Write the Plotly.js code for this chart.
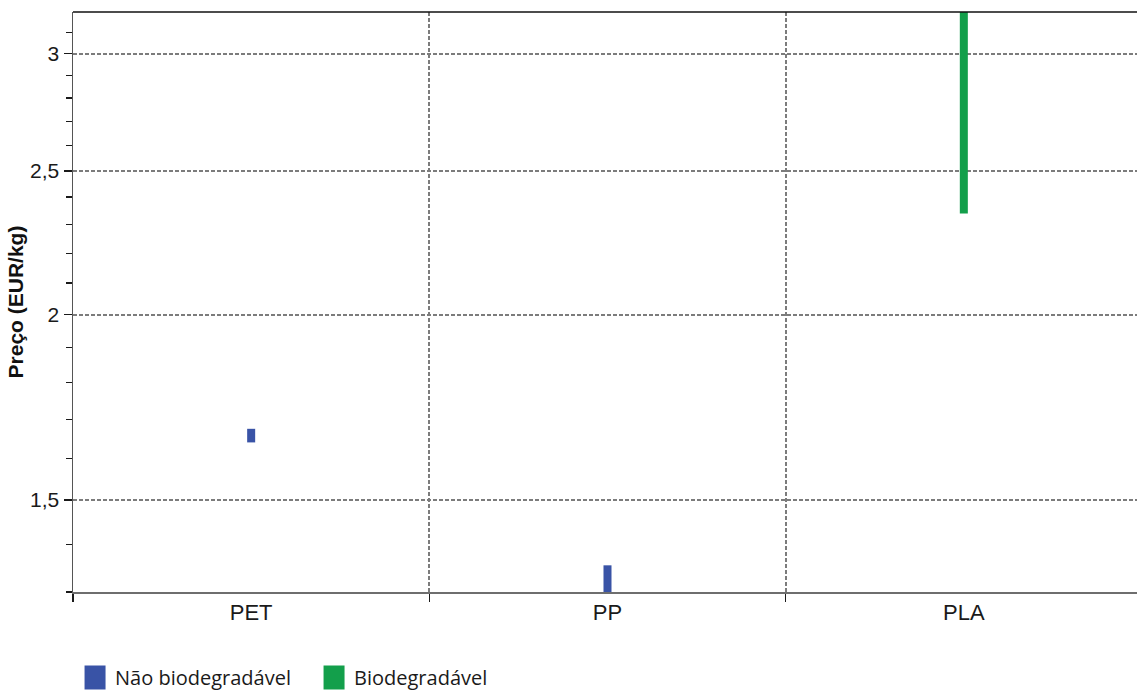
<!DOCTYPE html>
<html><head><meta charset="utf-8">
<script src="https://cdn.plot.ly/plotly-3.0.1.min.js"></script>
<style>
html,body{margin:0;padding:0;background:#fff}
.legend .scrollbox{clip-path:none !important}
.legend .legendpoints path{d:path("M30.5,19H9.5V-5H30.5Z");transform:none}
.legend text.legendtext{transform:translateY(7px)}
</style>
</head><body><div id="chart" style="width:1137px;height:690px"></div>
<script>
const categories = ['PET', 'PP', 'PLA'];
const naoBioCats = ['PET', 'PP'];
const naoBioLow = [1.64, 1.30];
const naoBioHigh = [1.675, 1.355];
const bioCats = ['PLA'];
const bioLow = [2.34];
const bioHigh = [3.3];
const yTickVals = [1.5, 2, 2.5, 3];
const yTickText = ['1,5', '2', '2,5', '3'];
const yMinorVals = [1.3, 1.4, 1.6, 1.7, 1.8, 1.9, 2.1, 2.2, 2.3, 2.4, 2.6, 2.7, 2.8, 2.9, 3.1];

const diff = (hi, lo) => hi.map((h, i) => h - lo[i]);

const traces = [
  {
    type: 'bar', name: 'Não biodegradável', x: naoBioCats,
    base: naoBioLow, y: diff(naoBioHigh, naoBioLow),
    width: 0.0225, marker: {color: '#3953a6'}, hoverinfo: 'skip'
  },
  {
    type: 'bar', name: 'Biodegradável', x: bioCats,
    base: bioLow, y: diff(bioHigh, bioLow),
    width: 0.0225, marker: {color: '#139f4b'}, hoverinfo: 'skip'
  }
];

const gridStyle = {gridcolor: '#7c7c7c', gridwidth: 2, griddash: '4px,2px'};

const layout = {
  width: 1137, height: 690,
  margin: {l: 73, r: 0, t: 12, b: 98},
  paper_bgcolor: '#ffffff', plot_bgcolor: '#ffffff',
  barmode: 'overlay',
  font: {family: 'Liberation Sans, Arial, sans-serif', color: '#1a1a1a'},
  xaxis: Object.assign({
    type: 'category', categoryorder: 'array', categoryarray: categories,
    range: [-0.5, 2.486], tickson: 'boundaries', showgrid: true,
    ticks: 'outside', ticklen: 8, tickwidth: 1.5, tickcolor: '#1a1a1a',
    showline: true, linecolor: '#6e6e6e', linewidth: 2,
    tickfont: {size: 22, color: '#1a1a1a'}, zeroline: false, fixedrange: true
  }, gridStyle),
  yaxis: Object.assign({
    type: 'log', range: [Math.log10(1.3), Math.log10(3.2)],
    tickmode: 'array', tickvals: yTickVals, ticktext: yTickText,
    ticks: 'outside', ticklen: 8, tickwidth: 1.5, tickcolor: '#1a1a1a',
    showline: true, linecolor: '#555555', linewidth: 1.5,
    tickfont: {size: 21, color: '#1a1a1a'}, showgrid: true, zeroline: false,
    minor: {tickmode: 'array', tickvals: yMinorVals, ticks: 'outside', ticklen: 6,
            tickwidth: 1.5, tickcolor: '#1a1a1a', showgrid: false},
    title: {text: '<b>Preço (EUR/kg)</b>', font: {size: 21, color: '#111'}, standoff: 0},
    fixedrange: true
  }, gridStyle),
  showlegend: true,
  legend: {
    orientation: 'h', xref: 'container', yref: 'container',
    x: 0.066, y: 0, xanchor: 'left', yanchor: 'bottom',
    font: {family: 'Open Sans, Noto Sans, sans-serif', size: 20, color: '#1a1a1a'},
    itemwidth: 30, entrywidth: 194, traceorder: 'normal', bgcolor: 'rgba(0,0,0,0)'
  },
  shapes: [
    {type: 'line', xref: 'paper', yref: 'paper', x0: 0, x1: 1, y0: 1, y1: 1,
     line: {color: '#111111', width: 1.5}}
  ]
};

Plotly.newPlot('chart', traces, layout, {displayModeBar: false, staticPlot: true});
</script>
</body></html>
